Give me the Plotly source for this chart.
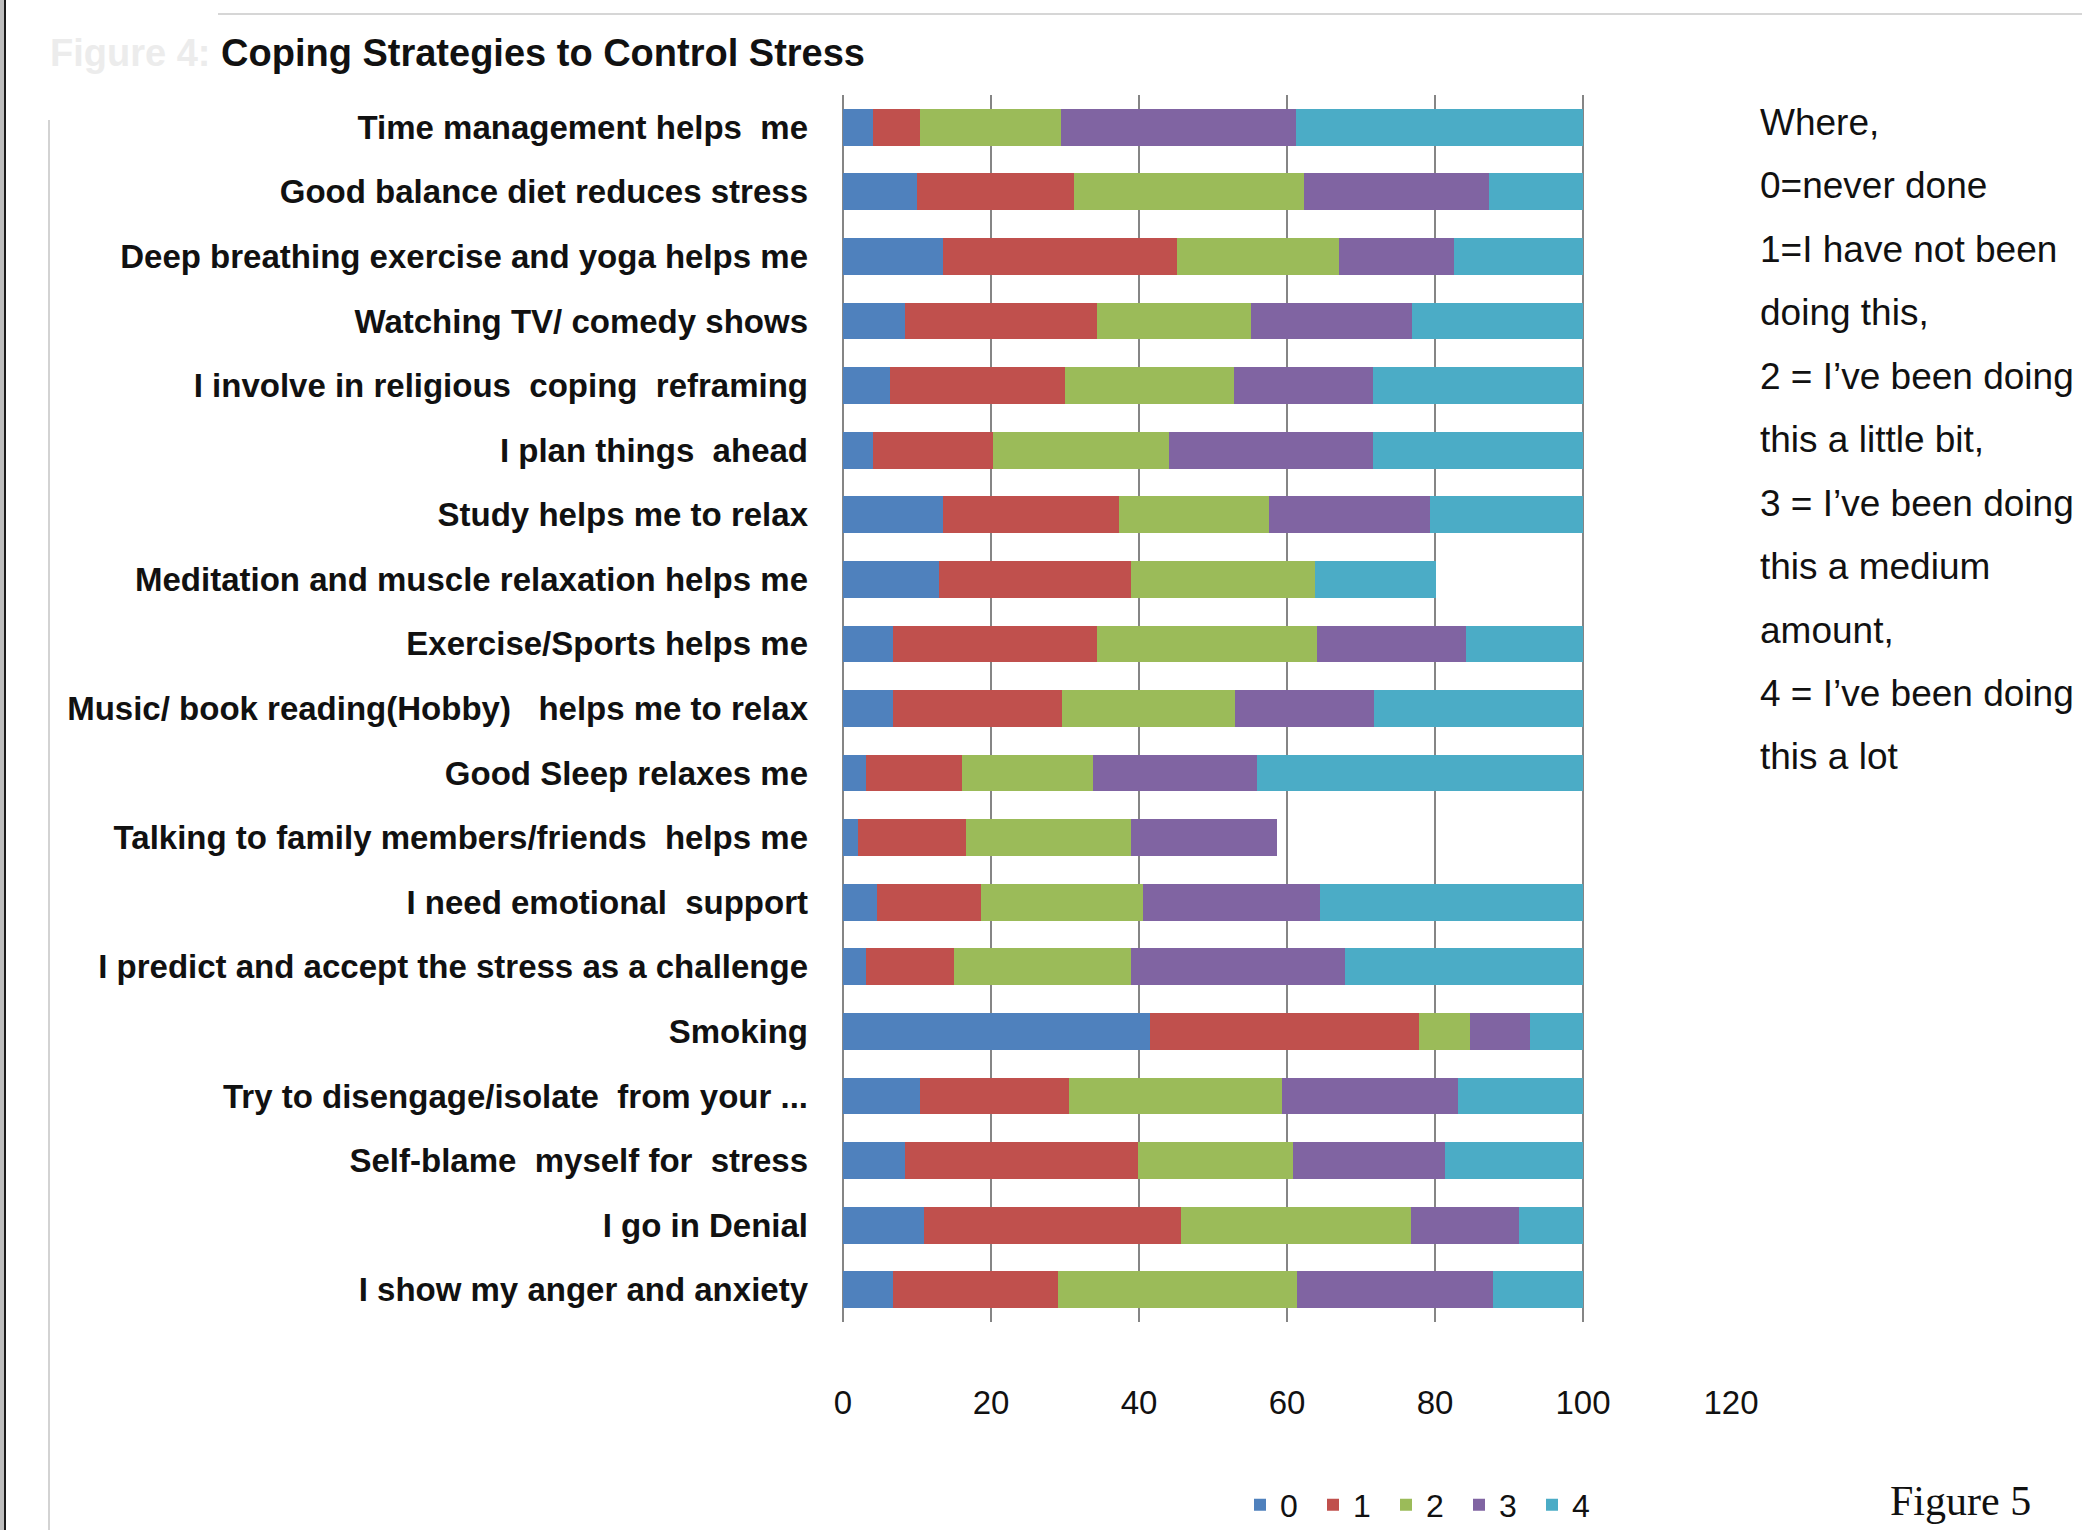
import plotly.graph_objects as go

# ---------------- data ----------------
categories = [
    "Time management helps  me",
    "Good balance diet reduces stress",
    "Deep breathing exercise and yoga helps me",
    "Watching TV/ comedy shows",
    "I involve in religious  coping  reframing",
    "I plan things  ahead",
    "Study helps me to relax",
    "Meditation and muscle relaxation helps me",
    "Exercise/Sports helps me",
    "Music/ book reading(Hobby)   helps me to relax",
    "Good Sleep relaxes me",
    "Talking to family members/friends  helps me",
    "I need emotional  support",
    "I predict and accept the stress as a challenge",
    "Smoking",
    "Try to disengage/isolate  from your ...",
    "Self-blame  myself for  stress",
    "I go in Denial",
    "I show my anger and anxiety",
]

level_names = ["0", "1", "2", "3", "4"]

level0 = [4.0, 10.0, 13.5, 8.4, 6.3, 4.0, 13.5, 13.0, 6.8, 6.8, 3.1, 2.0, 4.6, 3.1, 41.5, 10.4, 8.4, 10.9, 6.8]
level1 = [6.4, 21.2, 31.7, 25.9, 23.7, 16.3, 23.8, 25.9, 27.5, 22.8, 13.0, 14.6, 14.1, 11.9, 36.4, 20.2, 31.5, 34.8, 22.2]
level2 = [19.1, 31.1, 21.8, 20.8, 22.9, 23.8, 20.2, 24.9, 29.7, 23.4, 17.7, 22.3, 21.8, 23.9, 6.8, 28.7, 20.9, 31.1, 32.3]
level3 = [31.7, 25.0, 15.5, 21.8, 18.7, 27.5, 21.8, 0.0, 20.2, 18.7, 22.2, 19.7, 23.9, 29.0, 8.2, 23.8, 20.6, 14.5, 26.5]
level4 = [38.8, 12.7, 17.5, 23.1, 28.4, 28.4, 20.7, 16.3, 15.8, 28.3, 44.0, 0.0, 35.6, 32.1, 7.1, 16.9, 18.6, 8.7, 12.2]

x_ticks = [0, 20, 40, 60, 80, 100, 120]

title_ghost = "Figure 4: "
title_text = "Coping Strategies to Control Stress"
note_lines = [
    "Where,",
    "0=never done",
    "1=I have not been",
    "doing this,",
    "2 = I\u2019ve been doing",
    "this a little bit,",
    "3 = I\u2019ve been doing",
    "this a medium",
    "amount,",
    "4 = I\u2019ve been doing",
    "this a lot",
]
figure_caption = "Figure 5"

# ---------------- style ----------------
colors = ["#4F81BD", "#C0504D", "#9BBB59", "#8064A2", "#4BACC6"]
W, H = 2082, 1530
L, R, T, B = 843, 351, 95, 208
PW, PH = W - L - R, H - T - B
SANS = "Liberation Sans, Arial, sans-serif"


def px(xp):
    return (xp - L) / PW


def py(yp):
    return (H - B - yp) / PH


fig = go.Figure()
for name, vals, col in zip(level_names, [level0, level1, level2, level3, level4], colors):
    fig.add_trace(go.Bar(
        y=categories, x=vals, name=name, orientation="h",
        marker=dict(color=col, line=dict(width=0)),
    ))

fig.update_layout(
    width=W, height=H,
    margin=dict(l=L, r=R, t=T, b=B, pad=0, autoexpand=False),
    barmode="stack", bargap=0.43,
    plot_bgcolor="white", paper_bgcolor="white",
    showlegend=True,
    legend=dict(
        orientation="h", x=px(1240), y=py(1505), xanchor="left", yanchor="middle",
        font=dict(family=SANS, size=32, color="#111111"),
        entrywidth=28, entrywidthmode="pixels",
        bgcolor="rgba(0,0,0,0)", traceorder="normal",
    ),
    xaxis=dict(
        range=[0, 120], tickvals=x_ticks, ticktext=[str(v) for v in x_ticks],
        showgrid=True, gridcolor="#858585", gridwidth=2,
        zeroline=True, zerolinecolor="#858585", zerolinewidth=2,
        showline=False, ticks="", ticklabelstandoff=58, automargin=False,
        tickfont=dict(family=SANS, size=33, color="#111111"),
        fixedrange=True,
    ),
    yaxis=dict(
        type="category", autorange="reversed", automargin=False,
        showgrid=False, zeroline=False, showline=False, ticks="",
        ticklabelstandoff=34,
        tickfont=dict(family=SANS, size=33, color="#111111", weight="bold"),
        fixedrange=True,
    ),
)

annotations = []
annotations.append(dict(
    xref="paper", yref="paper", x=px(48), y=py(53), xanchor="left", yanchor="middle",
    text=f"<span style='color:#ececec'>{title_ghost}</span>{title_text}",
    showarrow=False, font=dict(family=SANS, size=38, color="#111111", weight="bold"),
))
for i, line in enumerate(note_lines):
    annotations.append(dict(
        xref="paper", yref="paper", x=px(1758), y=py(122 + 63.5 * i),
        xanchor="left", yanchor="middle", text=line, showarrow=False,
        font=dict(family=SANS, size=37, color="#111111"),
    ))
annotations.append(dict(
    xref="paper", yref="paper", x=px(1888), y=py(1501), xanchor="left", yanchor="middle",
    text=figure_caption, showarrow=False,
    font=dict(family="Liberation Serif, Times New Roman, serif", size=42, color="#111111"),
))
fig.update_layout(annotations=annotations)

shapes = [
    dict(type="rect", xref="paper", yref="paper", x0=px(0), x1=px(4), y0=py(0), y1=py(H),
         fillcolor="#bdbdbd", line=dict(width=0), layer="above"),
    dict(type="rect", xref="paper", yref="paper", x0=px(4), x1=px(6), y0=py(0), y1=py(H),
         fillcolor="#1a1a1a", line=dict(width=0), layer="above"),
    dict(type="line", xref="paper", yref="paper", x0=px(49), x1=px(49), y0=py(120), y1=py(H),
         line=dict(color="#c4c4c4", width=1.5), layer="above"),
    dict(type="line", xref="paper", yref="paper", x0=px(218), x1=px(W), y0=py(14), y1=py(14),
         line=dict(color="#c8c8c8", width=1.5), layer="above"),
]
fig.update_layout(shapes=shapes)

fig.write_html("out.html", config={"displayModeBar": False})
